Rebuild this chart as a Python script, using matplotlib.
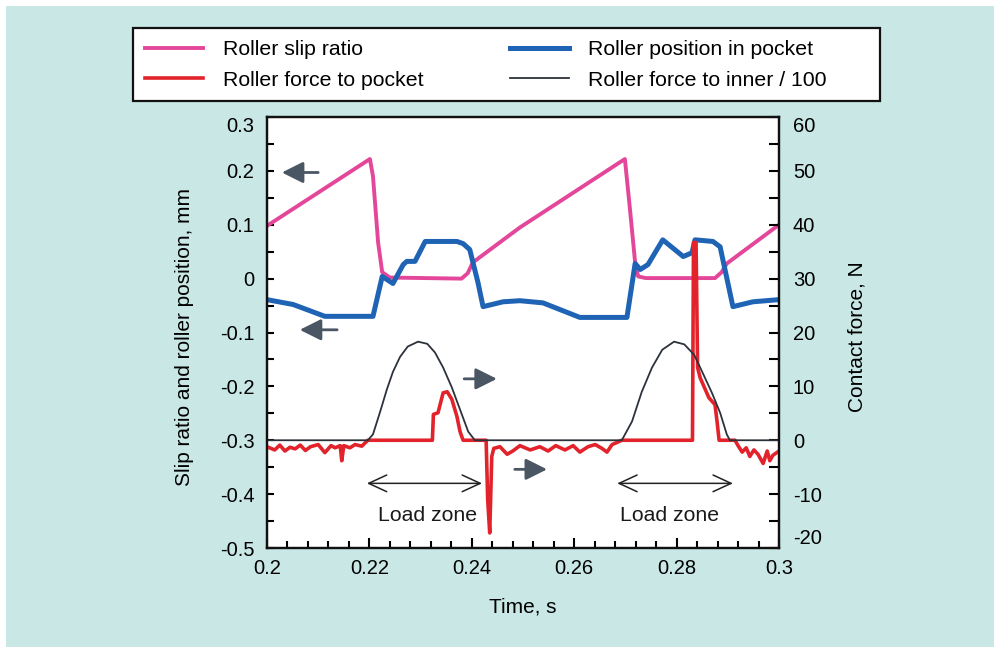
import matplotlib
matplotlib.use("Agg")
import matplotlib.pyplot as plt
from matplotlib.patches import Rectangle
from matplotlib.ticker import MultipleLocator

plt.rcParams['font.family'] = ['Liberation Sans', 'DejaVu Sans']
plt.rcParams['axes.unicode_minus'] = False

# slip ratio (left axis)
slip_t = [0.2000, 0.2201, 0.2207, 0.2217, 0.2225, 0.2240, 0.2380, 0.2392, 0.2402,
          0.2494, 0.2699, 0.2709, 0.2719, 0.2725, 0.2740, 0.2875, 0.2888, 0.2898, 0.3000]
slip_v = [0.098, 0.222, 0.190, 0.067, 0.012, 0.002, 0.000, 0.010, 0.030,
          0.095, 0.222, 0.128, 0.030, 0.004, 0.001, 0.001, 0.012, 0.028, 0.100]

# roller position in pocket, mm (left axis)
pos_t = [0.2000, 0.2051, 0.2113, 0.2207, 0.2225, 0.2246, 0.2266, 0.2273, 0.2289,
         0.2309, 0.2371, 0.2383, 0.2396, 0.2412, 0.2422, 0.2461, 0.2494, 0.2539,
         0.2611, 0.2703, 0.2719, 0.2729, 0.2744, 0.2773, 0.2813, 0.2830, 0.2836,
         0.2871, 0.2885, 0.2910, 0.2949, 0.3000]
pos_v = [-0.039, -0.048, -0.070, -0.070, 0.004, -0.009, 0.026, 0.032, 0.032,
         0.069, 0.069, 0.065, 0.054, -0.007, -0.052, -0.043, -0.041, -0.045,
         -0.072, -0.072, 0.028, 0.017, 0.026, 0.072, 0.041, 0.048, 0.072,
         0.069, 0.059, -0.052, -0.043, -0.039]

# roller force to pocket, N (right axis)
fp_t = [0.2000, 0.2015, 0.2025, 0.2035, 0.2045, 0.2055, 0.2065, 0.2075, 0.2085,
        0.2100, 0.2113, 0.2125, 0.2133, 0.2143, 0.2146, 0.2150, 0.2162, 0.2172,
        0.2185, 0.2197, 0.2323, 0.2325, 0.2334, 0.2344, 0.2352, 0.2361, 0.2371,
        0.2377, 0.2383, 0.2428, 0.2431, 0.2435, 0.2439, 0.2443, 0.2455, 0.2469,
        0.2480, 0.2494, 0.2514, 0.2533, 0.2549, 0.2564, 0.2582, 0.2598, 0.2611,
        0.2627, 0.2641, 0.2654, 0.2664, 0.2674, 0.2686, 0.2693, 0.2831, 0.2833,
        0.2838, 0.2841, 0.2846, 0.2863, 0.2875, 0.2879, 0.2883, 0.2914, 0.2920,
        0.2928, 0.2936, 0.2943, 0.2951, 0.2959, 0.2969, 0.2977, 0.2982, 0.2988,
        0.3000]
fp_v = [-1.2, -1.8, -0.9, -2.0, -1.3, -1.6, -0.9, -1.9, -1.2,
        -0.8, -2.3, -1.0, -1.4, -1.0, -3.8, -1.0, -1.4, -0.8,
        -1.1, 0.0, 0.0, 4.8, 5.1, 8.8, 9.0, 7.6, 4.4,
        1.6, 0.0, 0.0, -11.0, -17.2, -3.0, -1.5, -1.2, -2.6,
        -2.0, -1.0, -1.8, -1.2, -2.0, -1.0, -1.8, -1.0, -2.2,
        -1.2, -0.8, -1.5, -2.2, -0.8, -0.3, 0.0, 0.0, 36.7,
        36.7, 13.5, 11.6, 7.9, 6.6, 3.5, 0.0, 0.0, -1.0,
        -2.2, -1.4, -3.0, -1.8, -2.6, -4.3, -2.0, -3.8, -2.8,
        -2.0]

# roller force to inner / 100, N (right axis)
fi_t = [0.2000, 0.2197, 0.2207, 0.2221, 0.2234, 0.2246, 0.2260, 0.2275, 0.2295,
        0.2313, 0.2328, 0.2344, 0.2361, 0.2377, 0.2393, 0.2406, 0.2693, 0.2713,
        0.2732, 0.2752, 0.2772, 0.2795, 0.2815, 0.2834, 0.2850, 0.2869, 0.2885,
        0.2898, 0.2904, 0.3000]
fi_v = [0.0, 0.0, 1.1, 5.3, 9.4, 12.7, 15.5, 17.4, 18.3,
        17.9, 16.3, 13.5, 9.8, 5.7, 1.6, 0.0, 0.0, 3.5,
        9.0, 13.5, 16.8, 18.3, 17.8, 15.9, 12.7, 8.8, 5.1,
        1.1, 0.0, 0.0]

c_pink = '#e4469a'
c_blue = '#1f63b5'
c_red = '#e3232b'
c_black = '#2c323b'
c_arrow = '#4b5664'

fig = plt.figure(figsize=(9.94, 6.47), dpi=100)
fig.patch.set_facecolor('white')
fig.patches.append(Rectangle((6 / 994, 0), 1, 641 / 647, transform=fig.transFigure,
                             facecolor='#c9e8e5', edgecolor='none', zorder=-10))
fig.patches.append(Rectangle((133 / 994, 1 - 101 / 647), (880 - 133) / 994, 73 / 647,
                             transform=fig.transFigure, facecolor='white',
                             edgecolor='#111111', lw=1.6, zorder=-5))

ax = fig.add_axes([267 / 994, 1 - 548 / 647, 512 / 994, 431 / 647])
ax.set_facecolor('white')
ax2 = ax.twinx()

l_pink, = ax.plot(slip_t, slip_v, color=c_pink, lw=2.8, solid_joinstyle='round')
l_blue, = ax.plot(pos_t, pos_v, color=c_blue, lw=3.6, solid_joinstyle='round')
l_red, = ax2.plot(fp_t, fp_v, color=c_red, lw=2.6, solid_joinstyle='round')
l_black, = ax2.plot(fi_t, fi_v, color=c_black, lw=1.3)

ax.set_xlim(0.2, 0.3)
ax.set_ylim(-0.5, 0.3)
ax2.set_ylim(-20, 60)

ax.xaxis.set_major_locator(MultipleLocator(0.02))
ax.xaxis.set_minor_locator(MultipleLocator(0.004))
ax.yaxis.set_major_locator(MultipleLocator(0.1))
ax.yaxis.set_minor_locator(MultipleLocator(0.05))
ax2.yaxis.set_major_locator(MultipleLocator(10))
ax2.yaxis.set_minor_locator(MultipleLocator(5))
ax.set_xticks([0.2, 0.22, 0.24, 0.26, 0.28, 0.3])
ax.set_xticklabels(['0.2', '0.22', '0.24', '0.26', '0.28', '0.3'])
ax.set_yticks([0.3, 0.2, 0.1, 0, -0.1, -0.2, -0.3, -0.4, -0.5])
ax.set_yticklabels(['0.3', '0.2', '0.1', '0', '-0.1', '-0.2', '-0.3', '-0.4', '-0.5'])

ax.tick_params(axis='x', which='both', direction='in', top=False, labelsize=14.5,
               pad=8, width=1.5)
ax.tick_params(axis='x', which='major', length=7)
ax.tick_params(axis='x', which='minor', length=5)
ax.tick_params(axis='y', which='both', direction='in', right=False, length=5,
               width=1.5, labelsize=14.5, pad=9)
ax2.tick_params(axis='y', which='both', direction='in', length=7, width=1.5,
                labelsize=14.5, pad=10)
for a in (ax, ax2):
    for s in a.spines.values():
        s.set_linewidth(1.6)
        s.set_color('#111111')

ax.set_xlabel('Time, s', fontsize=15)
ax.xaxis.set_label_coords(0.5, -0.115)
ax.set_ylabel('Slip ratio and roller position, mm', fontsize=15)
ax.yaxis.set_label_coords(-0.142, 0.49)
ax2.set_ylabel('Contact force, N', fontsize=15)
ax2.yaxis.set_label_coords(1.133, 0.49)

# direction arrows
for tip, tail, yv in [(0.2029, 0.2100, 0.197), (0.2064, 0.2137, -0.095),
                      (0.2449, 0.2385, -0.186), (0.2547, 0.2484, -0.354)]:
    ax.annotate('', xy=(tip, yv), xytext=(tail, yv),
                arrowprops=dict(arrowstyle='-|>,head_length=1.3,head_width=0.65',
                                mutation_scale=10, color=c_arrow, lw=2,
                                shrinkA=0, shrinkB=0))

# load zones
for x0, x1, xc in [(0.2195, 0.2420, 0.2313), (0.2684, 0.2910, 0.2786)]:
    ax.annotate('', xy=(x0, -0.38), xytext=(x1, -0.38),
                arrowprops=dict(arrowstyle='<->,head_length=1.3,head_width=0.6',
                                mutation_scale=10, color='#222222', lw=1.1,
                                shrinkA=0, shrinkB=0))
    ax.text(xc, -0.44, 'Load zone', ha='center', va='center', fontsize=15.3,
            color='#1a1a1a')

fig.legend([l_pink, l_red, l_blue, l_black],
           ['Roller slip ratio', 'Roller force to pocket',
            'Roller position in pocket', 'Roller force to inner / 100'],
           loc='upper left', bbox_to_anchor=(145 / 994, 1 - 40 / 647), ncol=2,
           frameon=False, fontsize=15.3, handlelength=2.75, handletextpad=0.9,
           columnspacing=4.1, labelspacing=0.55, borderpad=0, borderaxespad=0)

fig.canvas.draw()
ax.get_yticklabels()[0].set_va('top')
for lb in ax2.get_yticklabels():
    if lb.get_text() == '60':
        lb.set_va('top')
    if lb.get_text() == '-20':
        lb.set_va('bottom')

fig.savefig('out.png', dpi=100)
